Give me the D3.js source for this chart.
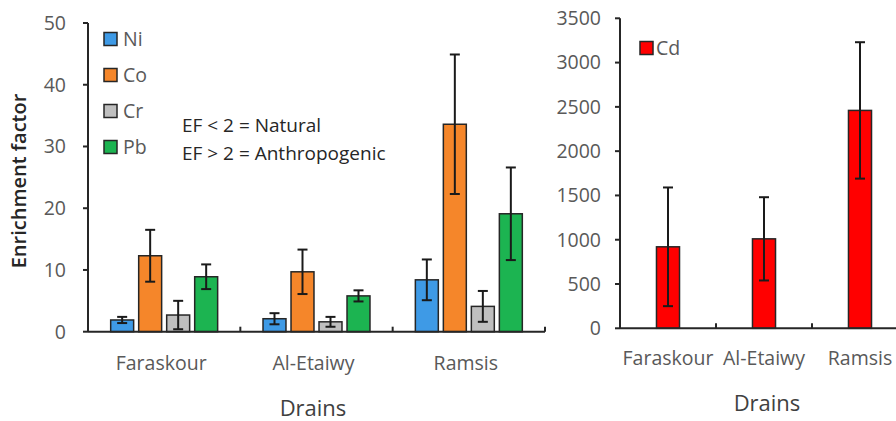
<!DOCTYPE html>
<html>
<head>
<meta charset="utf-8">
<script src="https://cdn.jsdelivr.net/npm/d3@7"></script>
<style>
  body { margin: 0; background: #fff; }
  svg { display: block; font-family: "Open Sans", sans-serif; }
  .tick-label { fill: #595959; font-size: 19.5px; }
  .axis-title { fill: #404040; font-size: 22px; }
  .note { fill: #262626; font-size: 19px; }
</style>
</head>
<body>
<div id="chart"></div>
<script>
const drains = ["Faraskour", "Al-Etaiwy", "Ramsis"];
const metals = ["Ni", "Co", "Cr", "Pb"];
const metalColors = ["#3e9ae6", "#f5862a", "#bfbfbf", "#1cb451"];

// enrichment factor (mean, sd) per drain, metal order as above
const efMean = [
  [1.9, 12.3, 2.7, 8.9],
  [2.1, 9.7, 1.6, 5.8],
  [8.4, 33.6, 4.1, 19.1]
];
const efErr = [
  [0.5, 4.2, 2.3, 2.0],
  [0.9, 3.6, 0.8, 0.9],
  [3.3, 11.3, 2.5, 7.5]
];
const efTicks = [0, 10, 20, 30, 40, 50];

const cdMean = [920, 1010, 2460];
const cdErr = [670, 470, 770];
const cdTicks = [0, 500, 1000, 1500, 2000, 2500, 3000, 3500];

const width = 896, height = 421;
const svg = d3.select("#chart").append("svg")
  .attr("width", width)
  .attr("height", height);

// ---------- left panel ----------
const x0 = d3.scaleBand().domain(drains).range([88, 545]);
const x1 = d3.scaleBand().domain(metals).range([0, x0.bandwidth()])
  .paddingInner(0.18).paddingOuter(0.81);
const y = d3.scaleLinear().domain([0, 50]).range([331.7, 23]);
const color = d3.scaleOrdinal().domain(metals).range(metalColors);

const left = svg.append("g");

const rows = drains.flatMap((d, i) => metals.map((m, j) => ({
  drain: d, metal: m, value: efMean[i][j], err: efErr[i][j]
})));

left.selectAll("rect.bar")
  .data(rows)
  .join("rect")
  .attr("class", "bar")
  .attr("x", d => x0(d.drain) + x1(d.metal))
  .attr("y", d => y(d.value))
  .attr("width", x1.bandwidth())
  .attr("height", d => y(0) - y(d.value))
  .attr("fill", d => color(d.metal))
  .attr("stroke", "#262626")
  .attr("stroke-width", 1.5);

drawErrors(left, rows, d => x0(d.drain) + x1(d.metal) + x1.bandwidth() / 2, y);

// axes
left.append("line")
  .attr("x1", x0.range()[0]).attr("x2", x0.range()[1])
  .attr("y1", y(0)).attr("y2", y(0))
  .attr("stroke", "#262626").attr("stroke-width", 2);
left.append("line")
  .attr("x1", x0.range()[0]).attr("x2", x0.range()[0])
  .attr("y1", y(0)).attr("y2", y(50))
  .attr("stroke", "#262626").attr("stroke-width", 2);

left.selectAll("line.ytick")
  .data(efTicks)
  .join("line")
  .attr("class", "ytick")
  .attr("x1", x0.range()[0] - 5).attr("x2", x0.range()[0])
  .attr("y1", d => y(d)).attr("y2", d => y(d))
  .attr("stroke", "#262626").attr("stroke-width", 2);

left.selectAll("text.ylab")
  .data(efTicks)
  .join("text")
  .attr("class", "tick-label ylab")
  .attr("x", 66)
  .attr("y", d => y(d))
  .attr("dy", "0.35em")
  .attr("text-anchor", "end")
  .text(d => d);

left.selectAll("line.xtick")
  .data(drains)
  .join("line")
  .attr("class", "xtick")
  .attr("x1", d => x0(d) + x0.bandwidth()).attr("x2", d => x0(d) + x0.bandwidth())
  .attr("y1", y(0)).attr("y2", y(0) - 5)
  .attr("stroke", "#262626").attr("stroke-width", 2);

left.selectAll("text.xlab")
  .data(drains)
  .join("text")
  .attr("class", "tick-label xlab")
  .attr("x", d => x0(d) + x0.bandwidth() / 2 - 3)
  .attr("y", 363)
  .attr("dy", "0.35em")
  .attr("text-anchor", "middle")
  .text(d => d);

left.append("text")
  .attr("class", "axis-title")
  .attr("x", 313)
  .attr("y", 408)
  .attr("dy", "0.35em")
  .attr("text-anchor", "middle")
  .text("Drains");

left.append("text")
  .attr("transform", `translate(19,181) rotate(-90)`)
  .attr("dy", "0.35em")
  .attr("text-anchor", "middle")
  .attr("fill", "#262626")
  .attr("font-size", 20)
  .attr("font-weight", 600)
  .text("Enrichment factor");

// legend
const legend = left.selectAll("g.legend")
  .data(metals)
  .join("g")
  .attr("class", "legend")
  .attr("transform", (d, i) => `translate(104,${39 + i * 36})`);
legend.append("rect")
  .attr("x", 0).attr("y", -6.5)
  .attr("width", 13).attr("height", 13)
  .attr("fill", d => color(d))
  .attr("stroke", "#262626").attr("stroke-width", 1.5);
legend.append("text")
  .attr("class", "tick-label")
  .attr("x", 19)
  .attr("dy", "0.35em")
  .text(d => d);

left.append("text")
  .attr("class", "note")
  .attr("x", 182).attr("y", 125).attr("dy", "0.35em")
  .text("EF < 2 = Natural");
left.append("text")
  .attr("class", "note")
  .attr("x", 182).attr("y", 153).attr("dy", "0.35em")
  .text("EF > 2 = Anthropogenic");

// ---------- right panel ----------
const xr = d3.scaleBand().domain(drains).range([620, 908])
  .paddingInner(0.76).paddingOuter(0.38);
const yr = d3.scaleLinear().domain([0, 3500]).range([328.3, 18.3]);
const right = svg.append("g");

const cdRows = drains.map((d, i) => ({ drain: d, value: cdMean[i], err: cdErr[i] }));

right.selectAll("rect.bar")
  .data(cdRows)
  .join("rect")
  .attr("class", "bar")
  .attr("x", d => xr(d.drain))
  .attr("y", d => yr(d.value))
  .attr("width", xr.bandwidth())
  .attr("height", d => yr(0) - yr(d.value))
  .attr("fill", "#ff0000")
  .attr("stroke", "#262626")
  .attr("stroke-width", 1.5);

drawErrors(right, cdRows, d => xr(d.drain) + xr.bandwidth() / 2, yr);

right.append("line")
  .attr("x1", 620).attr("x2", 908)
  .attr("y1", yr(0)).attr("y2", yr(0))
  .attr("stroke", "#262626").attr("stroke-width", 2);
right.append("line")
  .attr("x1", 620).attr("x2", 620)
  .attr("y1", yr(0)).attr("y2", yr(3500))
  .attr("stroke", "#262626").attr("stroke-width", 2);

right.selectAll("line.ytick")
  .data(cdTicks)
  .join("line")
  .attr("class", "ytick")
  .attr("x1", 615).attr("x2", 620)
  .attr("y1", d => yr(d)).attr("y2", d => yr(d))
  .attr("stroke", "#262626").attr("stroke-width", 2);

right.selectAll("text.ylab")
  .data(cdTicks)
  .join("text")
  .attr("class", "tick-label ylab")
  .attr("x", 601)
  .attr("y", d => yr(d))
  .attr("dy", "0.35em")
  .attr("text-anchor", "end")
  .text(d => d);

const step = xr.step();
right.selectAll("line.xtick")
  .data(drains.slice(0, 2))
  .join("line")
  .attr("class", "xtick")
  .attr("x1", (d, i) => 620 + step * (i + 1)).attr("x2", (d, i) => 620 + step * (i + 1))
  .attr("y1", yr(0)).attr("y2", yr(0) - 5)
  .attr("stroke", "#262626").attr("stroke-width", 2);

right.selectAll("text.xlab")
  .data(drains)
  .join("text")
  .attr("class", "tick-label xlab")
  .attr("x", d => xr(d) + xr.bandwidth() / 2)
  .attr("y", 358)
  .attr("dy", "0.35em")
  .attr("text-anchor", "middle")
  .text(d => d);

right.append("text")
  .attr("class", "axis-title")
  .attr("x", 767)
  .attr("y", 403)
  .attr("dy", "0.35em")
  .attr("text-anchor", "middle")
  .text("Drains");

const cdLegend = right.append("g").attr("transform", "translate(640,48)");
cdLegend.append("rect")
  .attr("x", 0).attr("y", -6.5)
  .attr("width", 13).attr("height", 13)
  .attr("fill", "#ff0000")
  .attr("stroke", "#262626").attr("stroke-width", 1.5);
cdLegend.append("text")
  .attr("class", "tick-label")
  .attr("x", 16)
  .attr("dy", "0.35em")
  .text("Cd");

function drawErrors(g, data, cx, yScale) {
  const eb = g.selectAll("g.err")
    .data(data)
    .join("g")
    .attr("class", "err")
    .attr("stroke", "#1a1a1a")
    .attr("stroke-width", 2);
  eb.append("line")
    .attr("x1", cx).attr("x2", cx)
    .attr("y1", d => yScale(d.value + d.err))
    .attr("y2", d => yScale(Math.max(0, d.value - d.err)));
  eb.append("line")
    .attr("x1", d => cx(d) - 5).attr("x2", d => cx(d) + 5)
    .attr("y1", d => yScale(d.value + d.err))
    .attr("y2", d => yScale(d.value + d.err));
  eb.append("line")
    .attr("x1", d => cx(d) - 5).attr("x2", d => cx(d) + 5)
    .attr("y1", d => yScale(Math.max(0, d.value - d.err)))
    .attr("y2", d => yScale(Math.max(0, d.value - d.err)));
}
</script>
</body>
</html>
